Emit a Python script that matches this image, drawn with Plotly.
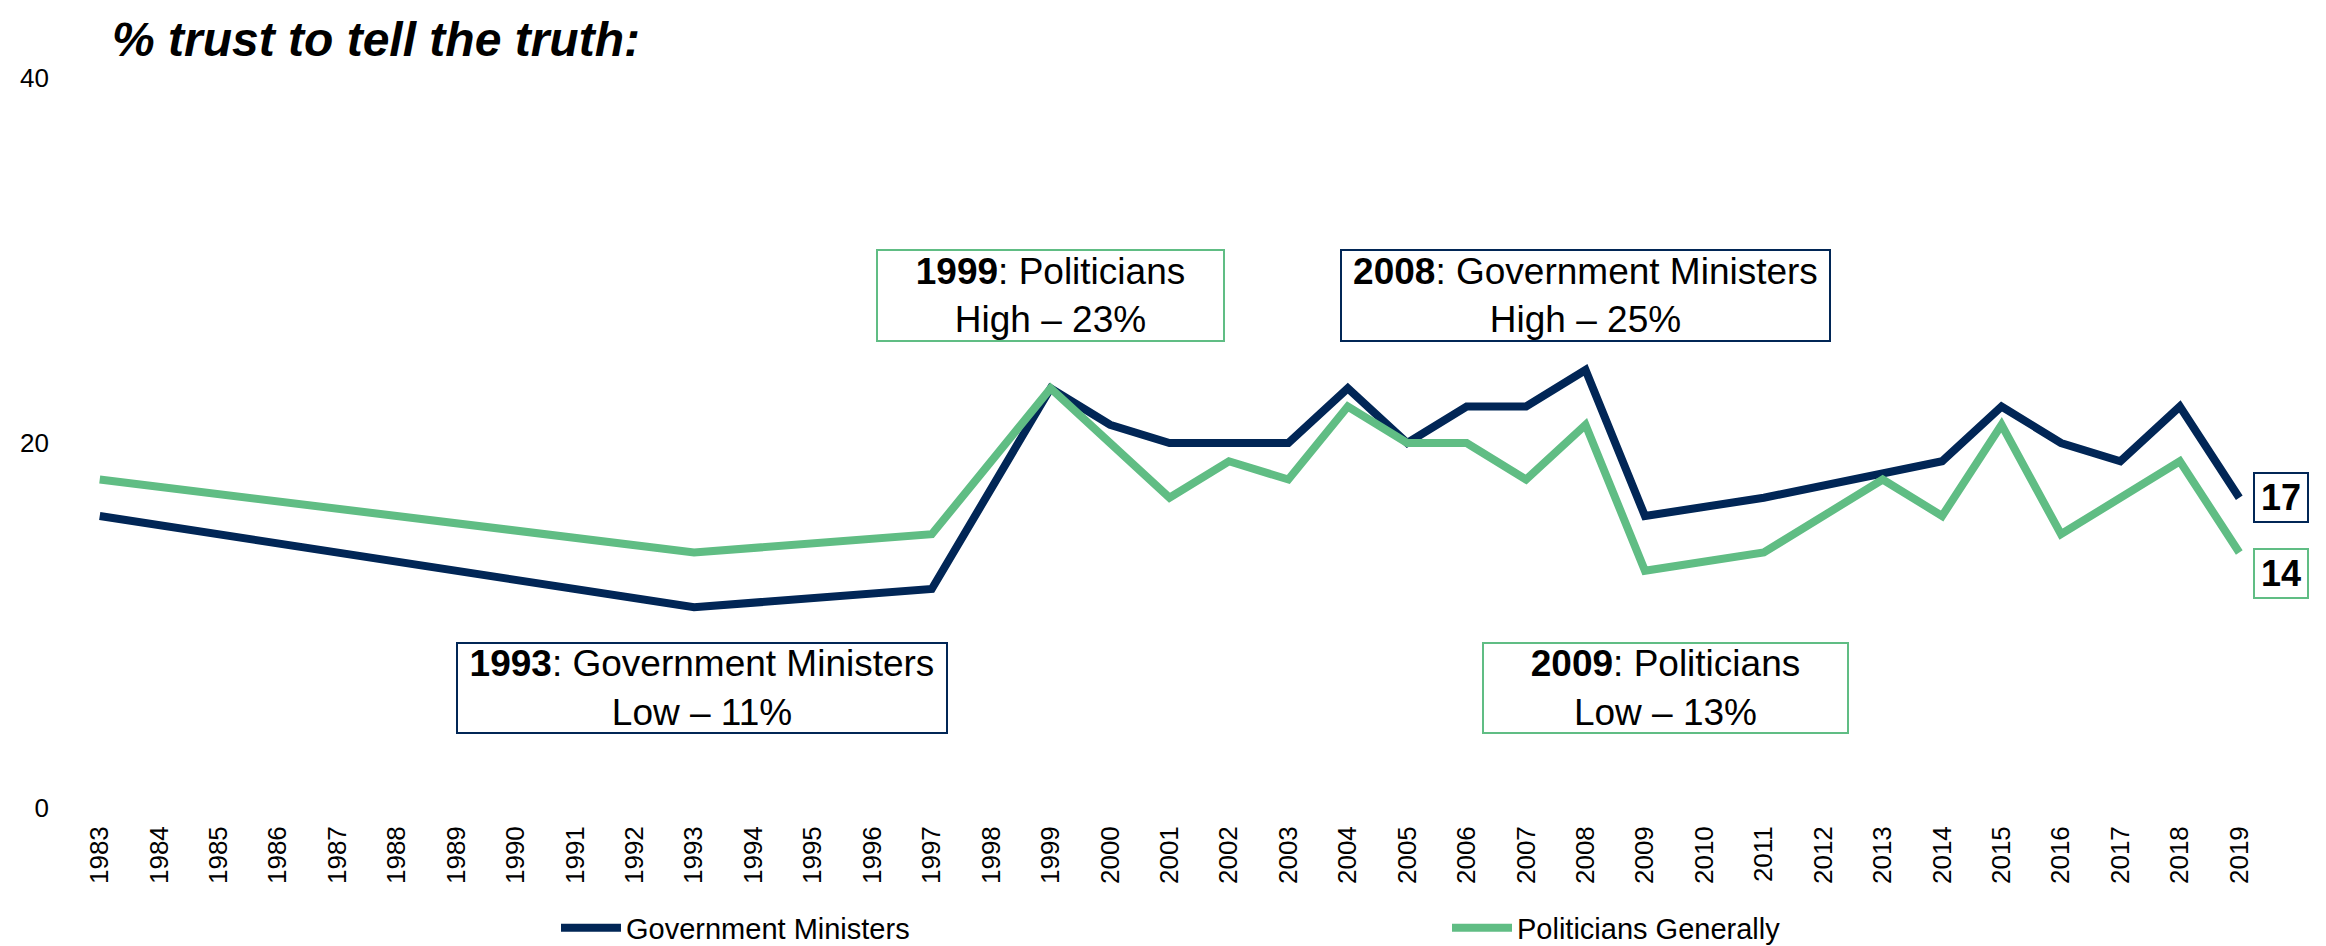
import plotly.graph_objects as go

years = list(range(1983, 2020))
gov_ministers = {1983: 16, 1993: 11, 1997: 12, 1999: 23, 2000: 21, 2001: 20, 2002: 20,
                 2003: 20, 2004: 23, 2005: 20, 2006: 22, 2007: 22, 2008: 24, 2009: 16,
                 2011: 17, 2014: 19, 2015: 22, 2016: 20, 2017: 19, 2018: 22, 2019: 17}
politicians = {1983: 18, 1993: 14, 1997: 15, 1999: 23, 2000: 20, 2001: 17, 2002: 19,
               2003: 18, 2004: 22, 2005: 20, 2006: 20, 2007: 18, 2008: 21, 2009: 13,
               2011: 14, 2013: 18, 2014: 16, 2015: 21, 2016: 15, 2017: 17, 2018: 19, 2019: 14}
gov_values = [gov_ministers.get(y) for y in years]
pol_values = [politicians.get(y) for y in years]
tick_labels = [str(y) for y in years]
y_ticks = [0, 20, 40]

NAVY = "#012656"
GREEN = "#60BD84"
FONT = "Liberation Sans, Arial, sans-serif"

W, H = 2326, 946
ML, MR, MT, MB = 62, 65, 70, 146

fig = go.Figure()
fig.add_trace(go.Scatter(x=years, y=gov_values, mode="lines", connectgaps=True,
                         name="Government Ministers",
                         line=dict(color=NAVY, width=8), legend="legend"))
fig.add_trace(go.Scatter(x=years, y=pol_values, mode="lines", connectgaps=True,
                         name="Politicians Generally",
                         line=dict(color=GREEN, width=8), legend="legend2"))

def box(text, x, y, color, w, h, size=37, xanchor="center", xshift=0, yshift=0):
    fig.add_annotation(x=x, y=y, xref="x", yref="y", text=text, showarrow=False,
                       font=dict(family=FONT, size=size, color="black"),
                       bordercolor=color, borderwidth=2, borderpad=0,
                       bgcolor="white", width=w, height=h, align="center",
                       xanchor=xanchor, yanchor="middle", xshift=xshift, yshift=yshift)

box("<b>1999</b>: Politicians<br>High – 23%", 1999, 28.1, GREEN, 345, 89)
box("<b>2008</b>: Government Ministers<br>High – 25%", 2008, 28.1, NAVY, 487, 89)
box("<b>1993</b>: Government Ministers<br>Low – 11%", 1993.13, 6.6, NAVY, 488, 88)
box("<b>2009</b>: Politicians<br>Low – 13%", 2009.35, 6.6, GREEN, 363, 88)
box("<b>17</b>", 2019, gov_values[-1], NAVY, 52, 47, size=36, xanchor="left", xshift=14)
box("<b>14</b>", 2019, pol_values[-1], GREEN, 52, 47, size=36, xanchor="left", xshift=14, yshift=-21)

fig.update_layout(
    width=W, height=H,
    margin=dict(l=ML, r=MR, t=MT, b=MB, autoexpand=False),
    paper_bgcolor="white", plot_bgcolor="white",
    font=dict(family=FONT, color="black"),
    title=dict(text="<b><i>% trust to tell the truth:</i></b>",
               font=dict(family=FONT, size=48, color="black"),
               x=104 / W, xanchor="left", xref="container",
               y=1 - 31 / H, yanchor="middle", yref="container"),
    xaxis=dict(range=[1982.5, 2019.5], tickmode="array", tickvals=years, ticktext=tick_labels,
               tickangle=-90, tickfont=dict(size=26, color="black"),
               showgrid=False, zeroline=False, showline=False, ticks="",
               ticklabelstandoff=12),
    yaxis=dict(range=[0, 40], tickmode="array", tickvals=y_ticks,
               tickfont=dict(size=26, color="black"),
               showgrid=False, zeroline=False, showline=False, ticks="",
               ticklabelstandoff=20),
    legend=dict(orientation="h", xref="container", yref="container",
                x=548 / W, xanchor="left", y=1 - 920 / H, yanchor="middle",
                font=dict(size=29, color="black"), itemwidth=60, bgcolor="rgba(0,0,0,0)"),
    legend2=dict(orientation="h", xref="container", yref="container",
                 x=1439 / W, xanchor="left", y=1 - 920 / H, yanchor="middle",
                 font=dict(size=29, color="black"), itemwidth=60, bgcolor="rgba(0,0,0,0)"),
    showlegend=True,
)

fig.write_html("out.html")
